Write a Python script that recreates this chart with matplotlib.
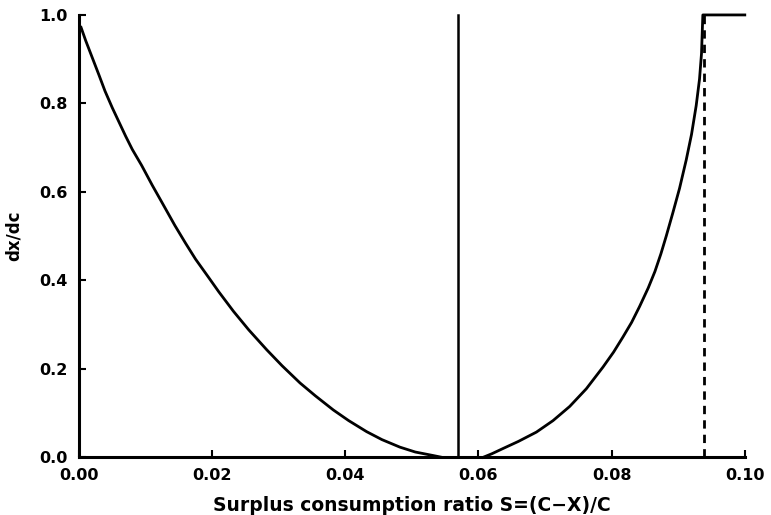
import matplotlib
matplotlib.use("Agg")
import matplotlib.pyplot as plt

# left branch of dx/dc
s_left = [0.0003, 0.0010, 0.0020, 0.0030, 0.0039, 0.0050, 0.0060, 0.0070,
          0.0080, 0.0094, 0.0110, 0.0125, 0.0144, 0.0160, 0.0175, 0.0194,
          0.0210, 0.0232, 0.0255, 0.0282, 0.0305, 0.0332, 0.0355, 0.0382,
          0.0405, 0.0432, 0.0455, 0.0482, 0.0505, 0.0532, 0.0545]
dxdc_left = [0.972, 0.942, 0.903, 0.864, 0.828, 0.790, 0.758, 0.726,
             0.696, 0.660, 0.615, 0.575, 0.524, 0.484, 0.448, 0.408,
             0.374, 0.330, 0.288, 0.243, 0.207, 0.168, 0.139, 0.107,
             0.083, 0.058, 0.040, 0.023, 0.012, 0.004, 0.0]

# right branch
s_right = [0.0607, 0.0620, 0.0637, 0.0660, 0.0687, 0.0712, 0.0737, 0.0762,
           0.0787, 0.0803, 0.0817, 0.0830, 0.0842, 0.0855, 0.0865, 0.0874,
           0.0882, 0.0892, 0.0902, 0.0912, 0.0920, 0.0927, 0.0932, 0.0935,
           0.0937, 0.1000]
dxdc_right = [0.0, 0.008, 0.020, 0.036, 0.057, 0.083, 0.115, 0.155,
              0.204, 0.238, 0.272, 0.305, 0.341, 0.383, 0.420, 0.460,
              0.500, 0.553, 0.608, 0.672, 0.730, 0.795, 0.855, 0.913,
              1.0, 1.0]

s_solid = 0.0569
s_dashed = 0.0938

xticks = [0.00, 0.02, 0.04, 0.06, 0.08, 0.10]
yticks = [0.0, 0.2, 0.4, 0.6, 0.8, 1.0]

plt.rcParams['font.family'] = ['DejaVu Sans']
plt.rcParams['font.weight'] = 'bold'

fig = plt.figure(figsize=(7.71, 5.15), dpi=100)
ax = fig.add_axes([0.1025, 0.112, 0.8635, 0.859])

ax.plot(s_left, dxdc_left, color='black', lw=2, solid_joinstyle='round')
ax.plot(s_right, dxdc_right, color='black', lw=2, solid_joinstyle='round',
        clip_on=False)
ax.plot([s_solid, s_solid], [0, 1], color='black', lw=1.8, clip_on=False)
ax.plot([s_dashed, s_dashed], [0, 1], color='black', lw=2, ls=(0, (3, 2.2)))

ax.set_xlim(0, 0.1)
ax.set_ylim(0, 1)
ax.set_xticks(xticks)
ax.set_yticks(yticks)
ax.set_xticklabels(['%.2f' % t for t in xticks])
ax.set_yticklabels(['%.1f' % t for t in yticks])
ax.tick_params(direction='in', length=5, width=1.5, labelsize=11.5, pad=8)

for side in ['top', 'right']:
    ax.spines[side].set_visible(False)
for side in ['left', 'bottom']:
    ax.spines[side].set_linewidth(2.2)

ax.set_xlabel('Surplus consumption ratio S=(C\u2212X)/C', fontsize=13.5,
              fontweight='bold', labelpad=9)
ax.set_ylabel('dx/dc', fontsize=12, fontweight='bold', labelpad=12)

fig.savefig('out.png', dpi=100)
